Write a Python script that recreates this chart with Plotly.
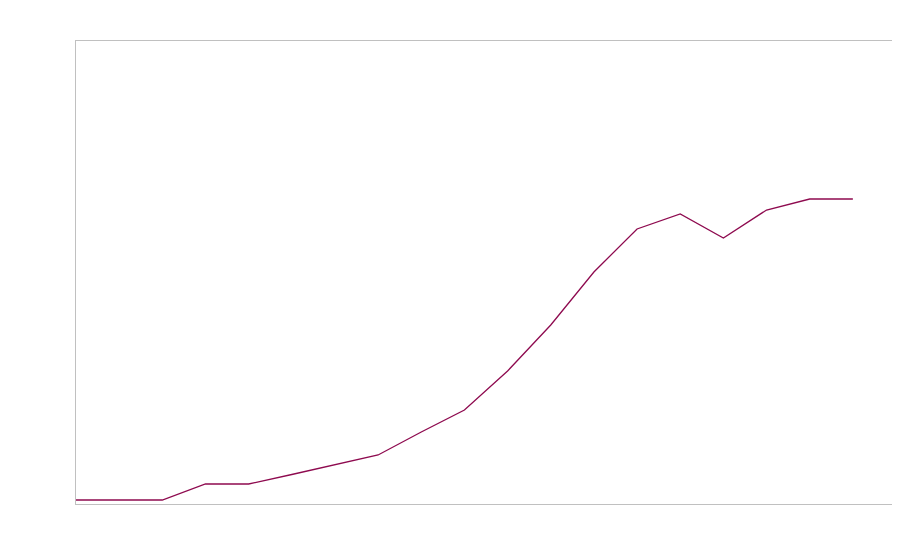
import plotly.graph_objects as go

x_idx = list(range(19))
values = [4, 4, 4, 20, 20, 29.5, 39, 49, 72, 94, 133, 179, 232, 275, 290, 266, 294, 305, 305]

fig = go.Figure(go.Scatter(x=x_idx, y=values, mode="lines",
                           line=dict(color="#8e0a4f", width=1.3), hoverinfo="skip"))
fig.update_layout(width=886, height=546, margin=dict(l=68, r=1, t=33, b=50),
                  paper_bgcolor="white", plot_bgcolor="white", showlegend=False)
fig.update_xaxes(range=[0, 18.93], showticklabels=False, showgrid=False, zeroline=False,
                 showline=True, linecolor="#c0c0c0", linewidth=1, mirror=True, ticks="")
fig.update_yaxes(range=[0, 463], showticklabels=False, showgrid=False, zeroline=False,
                 showline=True, linecolor="#c0c0c0", linewidth=1, mirror=True, ticks="")
fig.write_html("out.html")
